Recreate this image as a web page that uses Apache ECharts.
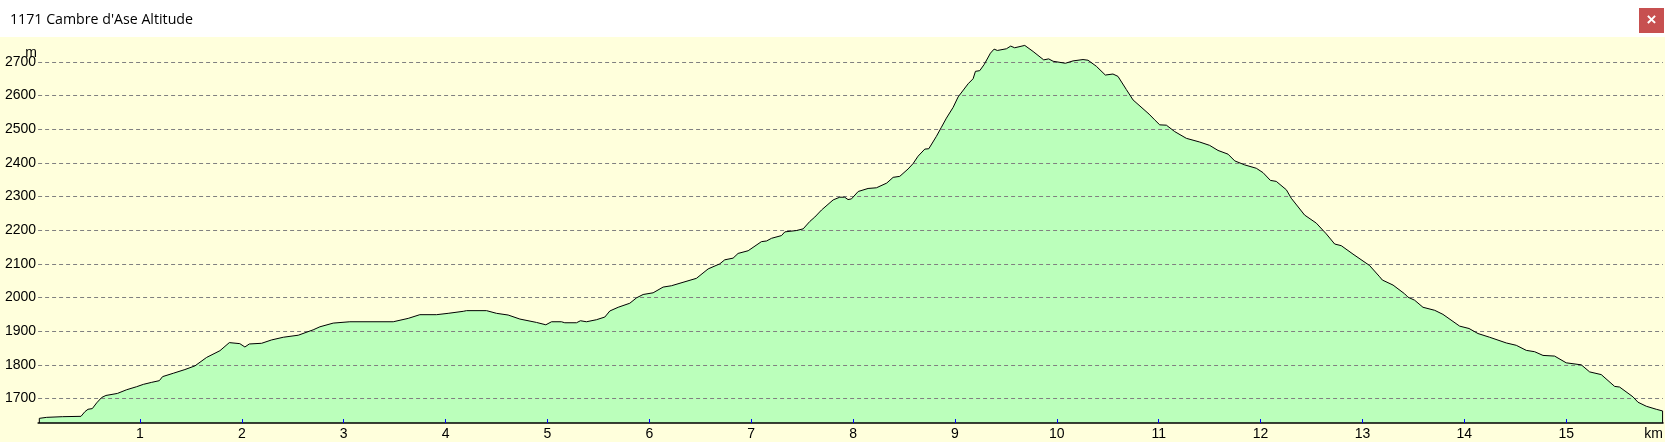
<!DOCTYPE html>
<html>
<head>
<meta charset="utf-8">
<style>
html,body{margin:0;padding:0;background:#FFFFDC;overflow:hidden}
#c{width:1665px;height:442px}
</style>
<script src="https://cdn.jsdelivr.net/npm/echarts@6/dist/echarts.min.js"></script>
</head>
<body>
<div id="c"></div>
<script>
const chartTitle = "1171 Cambre d'Ase Altitude";
const kmTicks = [1,2,3,4,5,6,7,8,9,10,11,12,13,14,15];
const altTicks = [1700,1800,1900,2000,2100,2200,2300,2400,2500,2600,2700];
const baseAlt = 1627.2, topAlt = 2774, maxKm = 15.95;
const distKm = [
0.012,0.012,0.084,0.238,0.421,0.46,0.49,0.532,0.575,0.624,0.666,0.778,0.869,0.967,1.033,1.115,1.19,1.222,1.327,1.441,1.54,1.654,1.785,1.877,1.98,2.03,2.073,2.194,2.292,2.407,2.554,2.70,
2.766,2.897,3.06,3.486,3.633,3.747,3.911,4.025,4.173,4.205,4.402,4.5,4.614,4.729,4.892,4.984,5.04,5.137,5.17,5.285,5.324,5.383,5.48,5.563,5.612,
5.694,5.808,5.874,5.939,6.037,6.135,6.217,6.462,6.577,6.691,6.74,6.822,6.871,6.97,7.10,7.15,7.2,7.297,7.33,7.444,7.51,7.575,7.624,7.69,7.804,7.869,7.918,7.95,7.984,8.05,8.147,8.229,8.33,
8.393,8.458,8.54,8.589,8.638,8.704,8.743,8.818,8.867,8.916,8.982,9.031,9.129,9.178,9.201,9.243,9.286,9.348,
9.384,9.416,9.505,9.547,9.586,9.685,9.767,9.871,9.92,9.963,10.084,10.159,10.257,10.306,10.388,10.476,10.551,10.6,10.682,10.748,10.905,
10.96,11.01,11.075,11.157,11.271,11.402,11.5,11.582,11.68,11.746,11.844,11.958,12.024,12.096,12.154,12.253,12.301,12.432,12.547,12.645,12.727,12.792,12.907,13.07,
13.169,13.195,13.3,13.414,13.447,13.512,13.594,13.709,13.79,13.954,14.046,14.134,14.248,14.412,14.51,14.608,14.69,14.772,14.886,15.0,15.148,15.23,15.344,15.475,15.524,15.655,15.704,15.786,15.884,15.946,15.946
];
const altM = [
1627.2,1641,1644,1646,1647,1661,1668,1670,1687,1703,1709,1715,1726,1735,1742,1748,1753,1765,1775,1786,1797,1822,1842,1866,1863,1853,1862,1864,1874,1882,1888,1904,
1913,1924,1928,1928,1938,1949,1949,1953,1959,1961,1961,1953,1948,1936,1926,1919,1928,1928,1925,1925,1931,1928,1934,1942,1960,
1971,1983,1999,2009,2014,2031,2035,2057,2085,2100,2112,2117,2131,2139,2166,2168,2176,2184,2195,2199,2204,2226,2239,2260,2290,2298,2298,2291,2293,2315,2324,2326,2340,
2357,2360,2382,2398,2420,2441,2442,2479,2506,2533,2565,2596,2635,2650,2672,2674,2692,2726,
2738,2734,2739,2747,2742,2749,2731,2706,2709,2702,2696,2703,2707,2705,2687,2661,2664,2657,2618,2587,2545,
2528,2513,2512,2493,2473,2462,2452,2437,2426,2406,2394,2384,2371,2348,2345,2320,2295,2245,2221,2189,2159,2154,2129,2095,
2061.5,2052,2037,2011,2001,1992,1971,1962,1950,1915,1908,1893,1882,1865,1858,1843,1839,1828,1826,1806,1800,1779,1771,1736,1734,1705,1689,1677,1668,1663,1627.2
];
const profile = distKm.map((d,i)=>[d,altM[i]]);
const chart = echarts.init(document.getElementById('c'),null,{renderer:'canvas'});
const labelFont = {fontFamily:'"Liberation Sans",Arial,sans-serif',fontSize:14,color:'#000'};
chart.setOption({
  animation:false,
  backgroundColor:'#FFFFDC',
  title:{text:chartTitle,left:10,top:13,padding:0,textStyle:{fontFamily:'"Open Sans",sans-serif',fontSize:14.2,fontWeight:'normal',color:'#000'}},
  grid:{left:38.1,right:2,top:37,bottom:19,containLabel:false},
  xAxis:{type:'value',min:0,max:maxKm,z:6,
    splitLine:{show:false},
    axisLine:{show:true,onZero:false,lineStyle:{color:'#000',width:1.5}},
    axisTick:{show:true,inside:true,length:4,lineStyle:{color:'#0000FF',width:1},customValues:kmTicks},
    axisLabel:{customValues:kmTicks,margin:4,formatter:v=>String(v),...labelFont}},
  yAxis:{type:'value',min:baseAlt,max:topAlt,z:3,
    axisLine:{show:false},
    axisTick:{show:false,customValues:altTicks},
    axisLabel:{customValues:altTicks,margin:2,formatter:v=>String(v),...labelFont},
    splitLine:{show:true,lineStyle:{color:'#808080',width:1,type:[4,3]}}},
  series:[
    {name:'area',type:'line',data:profile,z:1,symbol:'none',silent:true,lineStyle:{width:0},areaStyle:{color:'#BBFFBB',opacity:1,origin:'start'}},
    {name:'Altitude',type:'line',data:profile,z:5,symbol:'none',lineStyle:{color:'#000',width:1}}
  ],
  graphic:[
    {type:'rect',z:-1,silent:true,shape:{x:0,y:0,width:1665,height:37},style:{fill:'#fff'}},
    {type:'rect',z:10,shape:{x:1639,y:8,width:25,height:25},style:{fill:'#C75050'}},
    {type:'text',z:11,x:1651.5,y:20,style:{text:'×',fill:'#fff',font:'bold 17px "Liberation Sans",sans-serif',align:'center',verticalAlign:'middle'}},
    {type:'text',z:11,x:37,y:53,style:{text:'m',fill:'#000',font:'14px "Liberation Sans",sans-serif',align:'right',verticalAlign:'middle'}},
    {type:'text',z:11,x:1663,y:434,style:{text:'km',fill:'#000',font:'14px "Liberation Sans",sans-serif',align:'right',verticalAlign:'middle'}}
  ]
});
</script>
</body>
</html>
